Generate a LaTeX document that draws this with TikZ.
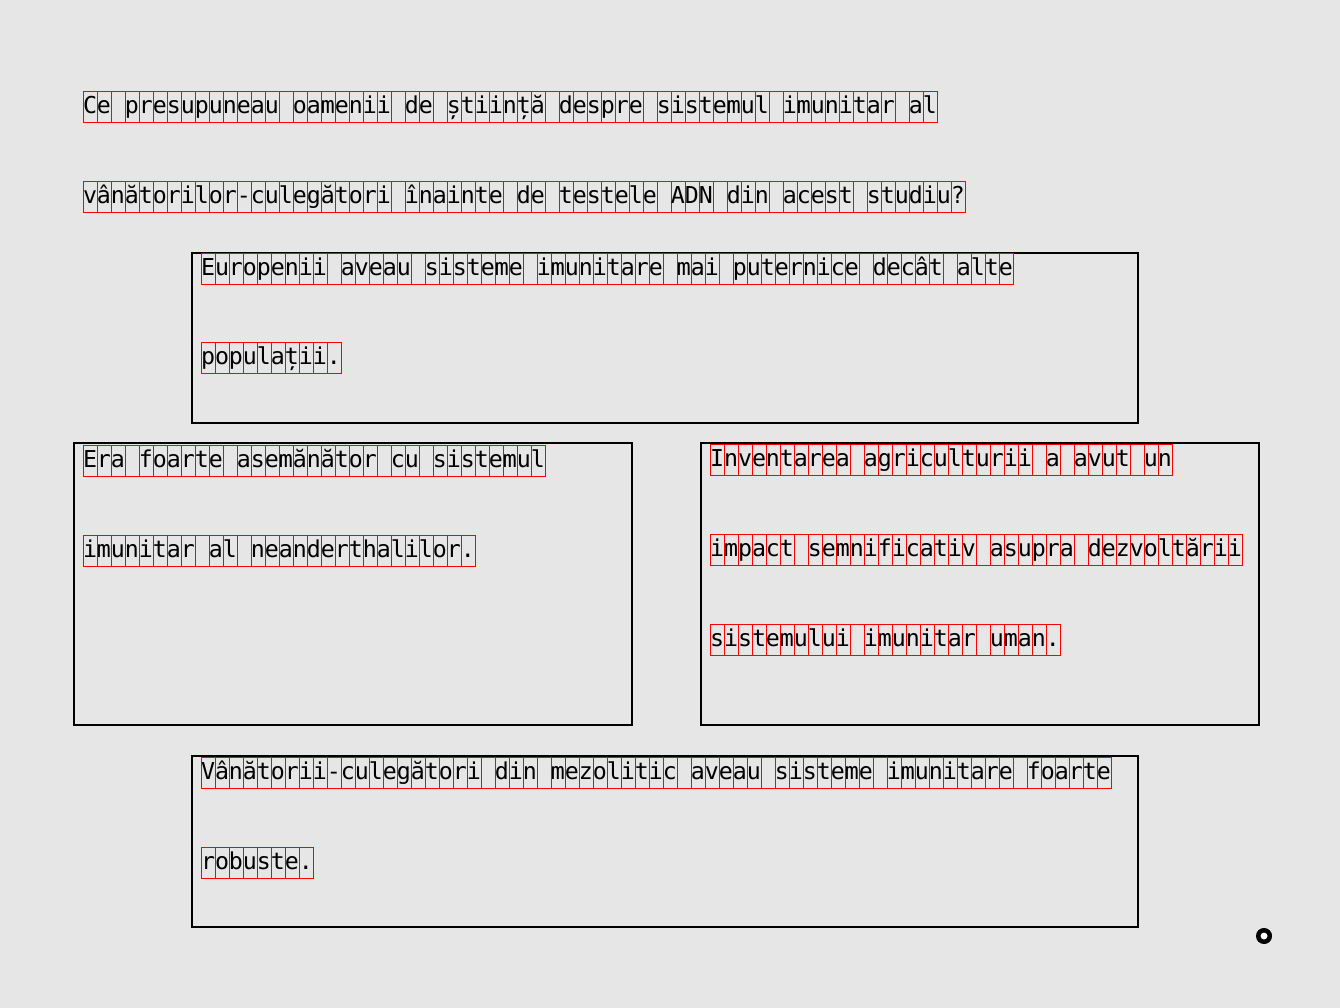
\documentclass[tikz,border=0pt]{standalone}
\usepackage{fontspec}
\newfontfamily\monof{DejaVu Sans Mono}[Scale=1]
\tikzset{
  cellbox/.style={draw=red, line width=0.9pt},
  panel/.style={draw=black, line width=1.2pt, fill=none},
  txt/.style={inner sep=0pt, outer sep=0pt, font=\fontsize{23.25}{28}\monof, text=black, anchor=base west},
}
% #1 name, #2 x, #3 top y, #4 number of characters, #5 text
\newcommand\tline[5]{%
  \foreach \k in {1,...,#4} {\draw[cellbox] ({#2+14*(\k-1)},#3) rectangle ++(14,31);}
  \node[txt] (#1) at (#2,#3+22.5) {#5};
}
\begin{document}
\begin{tikzpicture}[x=1pt,y=-1pt]
\fill[fill={rgb,255:red,230;green,230;blue,230}] (0,0) rectangle (1340,1008);
\useasboundingbox (0,0) rectangle (1340,1008);
% panels
\draw[panel] (192,253) rectangle (1138,423);
\draw[panel] (74,443) rectangle (632,725);
\draw[panel] (701,443) rectangle (1259,725);
\draw[panel] (192,756) rectangle (1138,927);
% question
\tline{q1}{83}{91}{61}{Ce presupuneau oamenii de știință despre sistemul imunitar al}
\tline{q2}{83}{181}{63}{vânătorilor-culegători înainte de testele ADN din acest studiu?}
% top panel
\tline{a1}{201}{253}{58}{Europenii aveau sisteme imunitare mai puternice decât alte}
\tline{a2}{201}{342}{10}{populații.}
% left panel
\tline{b1}{83}{445}{33}{Era foarte asemănător cu sistemul}
\tline{b2}{83}{535}{28}{imunitar al neanderthalilor.}
% right panel
\tline{c1}{710}{444}{33}{Inventarea agriculturii a avut un}
\tline{c2}{710}{534}{38}{impact semnificativ asupra dezvoltării}
\tline{c3}{710}{624}{25}{sistemului imunitar uman.}
% bottom panel
\tline{d1}{201}{757}{65}{Vânătorii-culegători din mezolitic aveau sisteme imunitare foarte}
\tline{d2}{201}{847}{8}{robuste.}
% marker
\node[circle, draw=black, fill=white, line width=4.5pt, minimum size=11.5pt, inner sep=0pt] (mark) at (1264,936) {};
\end{tikzpicture}
\end{document}
